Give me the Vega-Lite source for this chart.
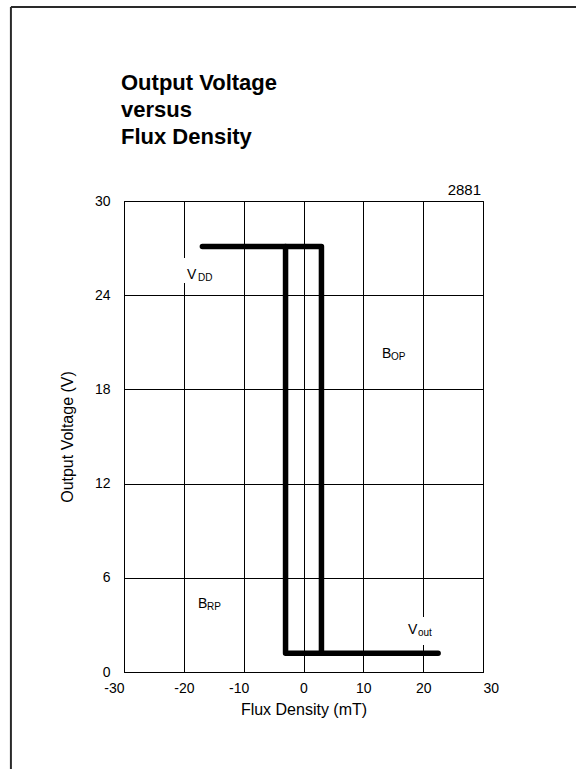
{
  "$schema": "https://vega.github.io/schema/vega-lite/v6.json",
  "autosize": "none",
  "width": 359,
  "height": 471,
  "padding": {"left": 124, "top": 201, "right": 93, "bottom": 97},
  "background": "white",
  "config": {
    "font": "Liberation Sans",
    "view": {"stroke": "black", "strokeWidth": 1},
    "axis": {
      "grid": true,
      "gridColor": "black",
      "gridOpacity": 1,
      "gridWidth": 1,
      "domainColor": "black",
      "ticks": false,
      "labelColor": "black",
      "labelFont": "Liberation Sans",
      "labelFontSize": 14,
      "titleColor": "black",
      "titleFont": "Liberation Sans",
      "titleFontSize": 16,
      "titleFontWeight": "normal"
    }
  },
  "title": {
    "text": ["Output Voltage", "versus", "Flux Density"],
    "anchor": "start",
    "frame": "group",
    "font": "Liberation Sans",
    "fontSize": 22,
    "fontWeight": "bold",
    "lineHeight": 27,
    "color": "black",
    "offset": 0,
    "dy": 143,
    "dx": -3
  },
  "encoding": {
    "x": {
      "field": "B",
      "type": "quantitative",
      "scale": {"domain": [-30, 30], "nice": false, "zero": false},
      "axis": {
        "title": "Flux Density (mT)",
        "values": [-30, -20, -10, 0, 10, 20, 30],
        "labelExpr": "'' + datum.value",
        "labelPadding": 9,
        "titlePadding": 6,
        "labelAlign": {
          "condition": [
            {"test": "datum.value === -30", "value": "right"},
            {"test": "datum.value === 30", "value": "left"}
          ],
          "value": "center"
        },
        "labelOffset": {
          "condition": {"test": "datum.value === -10", "value": -5},
          "value": 0
        }
      }
    },
    "y": {
      "field": "V",
      "type": "quantitative",
      "scale": {"domain": [0, 30], "nice": false, "zero": false},
      "axis": {
        "title": "Output Voltage (V)",
        "values": [0, 6, 12, 18, 24, 30],
        "labelPadding": 14,
        "titlePadding": 19
      }
    }
  },
  "layer": [
    {
      "data": {"values": [
        {"B": -20.6, "B2": -14.6, "V": 24.78, "V2": 26.37},
        {"B": 16.95, "B2": 22.13, "V": 1.72, "V2": 3.5}
      ]},
      "mark": {"type": "rect", "fill": "white", "stroke": null},
      "encoding": {"x2": {"field": "B2"}, "y2": {"field": "V2"}}
    },
    {
      "data": {"values": [
        {"series": "high", "idx": 1, "B": -16.9, "V": 27.1},
        {"series": "high", "idx": 2, "B": 3.0, "V": 27.1},
        {"series": "high", "idx": 3, "B": 3.0, "V": 1.2},
        {"series": "low", "idx": 1, "B": 22.5, "V": 1.2},
        {"series": "low", "idx": 2, "B": -3.0, "V": 1.2},
        {"series": "low", "idx": 3, "B": -3.0, "V": 27.1}
      ]},
      "mark": {"type": "line", "color": "black", "strokeWidth": 5.5, "strokeCap": "round", "strokeJoin": "round"},
      "encoding": {
        "detail": {"field": "series", "type": "nominal"},
        "order": {"field": "idx", "type": "quantitative"}
      }
    },
    {
      "data": {"values": [
        {"label": "V", "B": -19.47, "V": 25.03},
        {"label": "B", "B": 13.11, "V": 20.0},
        {"label": "B", "B": -17.63, "V": 4.08},
        {"label": "V", "B": 17.46, "V": 2.42}
      ]},
      "mark": {"type": "text", "align": "left", "baseline": "alphabetic", "fontSize": 14, "color": "black"},
      "encoding": {"text": {"field": "label"}}
    },
    {
      "data": {"values": [
        {"label": "DD", "B": -17.63, "V": 24.9},
        {"label": "OP", "B": 14.62, "V": 19.87},
        {"label": "RP", "B": -16.13, "V": 3.95},
        {"label": "out", "B": 19.13, "V": 2.29}
      ]},
      "mark": {"type": "text", "align": "left", "baseline": "alphabetic", "fontSize": 10, "color": "black"},
      "encoding": {"text": {"field": "label"}}
    },
    {
      "data": {"values": [{"label": "2881", "B": 30, "V": 30}]},
      "mark": {"type": "text", "align": "right", "baseline": "alphabetic", "fontSize": 15, "color": "black", "dx": -2, "dy": -6},
      "encoding": {"text": {"field": "label"}}
    },
    {
      "data": {"values": [
        {"B": -48.9, "B2": -48.9, "V": -6.5, "V2": 42.36},
        {"B": -48.9, "B2": 45.6, "V": 42.36, "V2": 42.36}
      ]},
      "mark": {"type": "rule", "color": "#2a2a2a", "strokeWidth": 2, "clip": false},
      "encoding": {"x2": {"field": "B2"}, "y2": {"field": "V2"}}
    }
  ]
}
